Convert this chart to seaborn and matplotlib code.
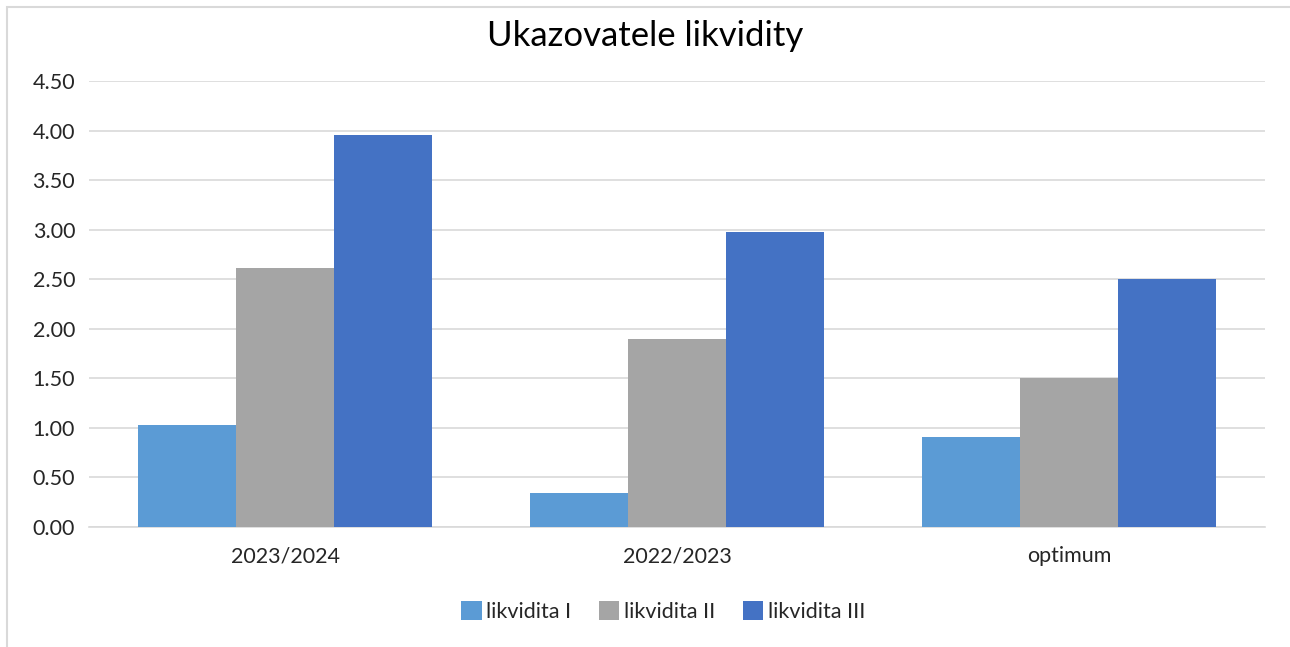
import numpy as np
import pandas as pd
import matplotlib
matplotlib.use('Agg')
import matplotlib.pyplot as plt
import seaborn as sns
from matplotlib.patches import Rectangle

categories = ['2023/2024', '2022/2023', 'optimum']
series = ['likvidita I', 'likvidita II', 'likvidita III']
likvidita_1 = [1.03, 0.34, 0.91]
likvidita_2 = [2.61, 1.90, 1.50]
likvidita_3 = [3.96, 2.98, 2.50]
colors = ['#5B9BD5', '#A5A5A5', '#4472C4']
y_ticks = [0, 0.5, 1, 1.5, 2, 2.5, 3, 3.5, 4, 4.5]

df = pd.DataFrame({
    'obdobie': categories * 3,
    'ukazovatel': [s for s in series for _ in categories],
    'hodnota': likvidita_1 + likvidita_2 + likvidita_3,
})

sns.set_style('white')
plt.rcParams['font.family'] = ['Lato', 'DejaVu Sans']

fig = plt.figure(figsize=(12.9, 6.47), dpi=100)
ax = fig.add_axes([0.069, 0.1855, 0.912, 0.6893])

sns.barplot(data=df, x='obdobie', y='hodnota', hue='ukazovatel', order=categories,
            hue_order=series, palette=colors, width=0.75, gap=0, saturation=1,
            linewidth=0, ax=ax, zorder=3)

ax.set_ylim(0, 4.5)
ax.set_xlim(-0.5, 2.5)
ax.set_yticks(y_ticks)
ax.set_yticklabels([f'{v:.2f}' for v in y_ticks], fontsize=15.5, color='#262626')
ax.tick_params(axis='x', labelsize=15.5, colors='#262626', length=0, pad=14)
ax.tick_params(axis='y', length=0, pad=10)
ax.grid(axis='y', color='#D9D9D9', linewidth=1.2, zorder=0)
ax.set_axisbelow(True)
for s in ['top', 'right', 'left']:
    ax.spines[s].set_visible(False)
ax.spines['bottom'].set_color('#D9D9D9')
ax.spines['bottom'].set_linewidth(1.2)
ax.set_xlabel('')
ax.set_ylabel('')

fig.text(0.5, 0.945, 'Ukazovatele likvidity', ha='center', va='center',
         fontsize=25, color='#000000')

handles, labels = ax.get_legend_handles_labels()
ax.legend(handles, labels, loc='center', bbox_to_anchor=(0.514, 0.055),
          bbox_transform=fig.transFigure, ncol=3, frameon=False, fontsize=15.5,
          handlelength=0.95, handleheight=0.95, handletextpad=0.2, columnspacing=1.3)

fig.patches.append(Rectangle((7 / 1290, -0.01), 1.02, 1 - 7 / 647 + 0.01,
                             transform=fig.transFigure, fill=False,
                             edgecolor='#D9D9D9', linewidth=1.5))

fig.savefig('out.png', dpi=100)
